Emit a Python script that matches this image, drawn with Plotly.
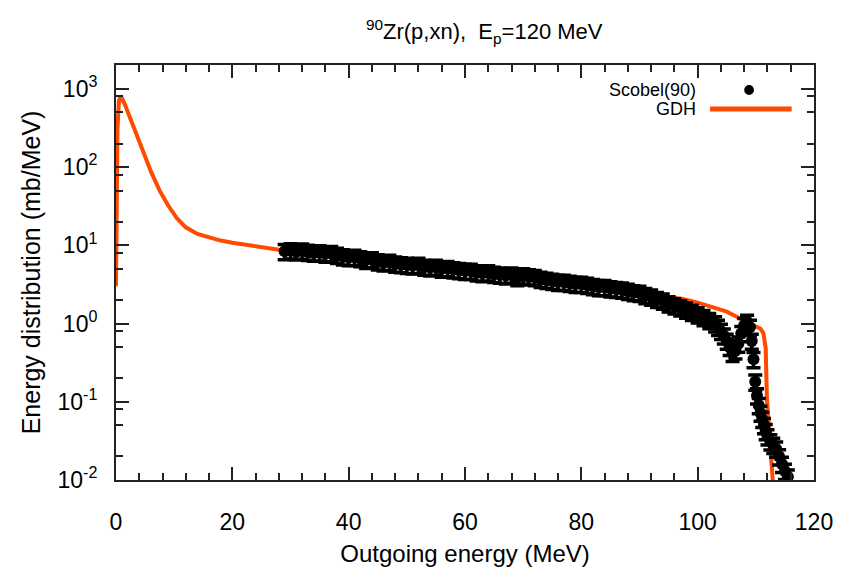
import plotly.graph_objects as go

# GDH calculation
gdh_e = [0.0, 0.1, 0.25, 0.5, 0.8, 1.5, 3.0, 4.5, 6.0, 7.5, 9.0, 10.5, 12.0, 14.0, 16.0,
         18.0, 20.0, 22.0, 25.0, 28.0, 30.0, 35.0, 40.0, 45.0, 50.0, 55.0, 60.0, 65.0,
         70.0, 75.0, 80.0, 85.0, 90.0, 95.0, 97.3, 100.0, 102.8, 105.0, 106.8, 108.0,
         109.5, 110.8, 111.3, 111.7, 111.9, 112.2, 112.5, 112.8, 113.0]
gdh_v = [3.0, 30, 300, 700, 820, 640, 330, 160, 88, 50, 32, 22, 17, 14, 12.5,
         11.5, 10.8, 10.2, 9.5, 8.8, 8.5, 7.7, 6.9, 6.1, 5.5, 5.0, 4.5, 4.1,
         3.7, 3.3, 3.0, 2.7, 2.4, 2.2, 2.07, 1.85, 1.62, 1.42, 1.21, 1.1,
         0.98, 0.86, 0.75, 0.48, 0.11, 0.05, 0.026, 0.0107, 0.008]

# Scobel(90) data
exp_e = [29, 30, 31, 32, 33, 34, 35, 36, 37, 38, 39, 40, 41, 42, 43, 44, 45, 46, 47, 48,
         49, 50, 51, 52, 53, 54, 55, 56, 57, 58, 59, 60, 61, 62, 63, 64, 65, 66, 67, 68,
         69, 70, 71, 72, 73, 74, 75, 76, 77, 78, 79, 80, 81, 82, 83, 84, 85, 86, 87, 88,
         89, 90, 91, 92, 93, 94, 95, 96, 97, 98, 99, 100, 101, 102, 103, 103.5, 104,
         104.5, 105, 105.5, 106, 106.5, 107, 107.5, 108, 108.5, 109, 109.3, 109.6, 109.9,
         110.2, 110.5, 110.8, 111.1, 111.4, 111.7, 112.0, 112.5, 113.0, 113.5, 114.0,
         114.5, 115.0, 115.5]
exp_v = [8.4, 8.6, 8.3, 8.5, 8.2, 8.0, 8.1, 7.8, 7.9, 7.5, 7.2, 7.0, 7.1, 6.8, 6.5, 6.6,
         6.2, 6.0, 6.1, 5.8, 5.7, 5.6, 5.5, 5.6, 5.3, 5.2, 5.3, 5.0, 5.1, 4.9, 4.8, 4.7,
         4.7, 4.5, 4.4, 4.5, 4.3, 4.2, 4.1, 4.2, 3.9, 4.1, 4.0, 3.9, 3.7, 3.6, 3.5, 3.4,
         3.4, 3.3, 3.2, 3.2, 3.1, 3.0, 2.9, 2.9, 2.8, 2.75, 2.7, 2.6, 2.5, 2.45, 2.3, 2.2,
         2.05, 1.95, 1.8, 1.7, 1.6, 1.5, 1.4, 1.3, 1.2, 1.1, 1.0, 0.9, 0.8, 0.7, 0.6,
         0.5, 0.42, 0.45, 0.55, 0.75, 0.95, 1.05, 0.9, 0.6, 0.35, 0.18, 0.12, 0.09, 0.072,
         0.06, 0.05, 0.042, 0.036, 0.031, 0.028, 0.025, 0.02, 0.016, 0.013, 0.011]

x_ticks = [0, 20, 40, 60, 80, 100, 120]
y_ticks = [0.01, 0.1, 1, 10, 100, 1000]
y_ticktext = ["10<sup>-2</sup>", "10<sup>-1</sup>", "10<sup>0</sup>",
              "10<sup>1</sup>", "10<sup>2</sup>", "10<sup>3</sup>"]
y_minor = [0.02, 0.05, 0.08, 0.2, 0.5, 0.8, 2, 5, 8, 20, 50, 80, 200, 500, 800]

FONT = "Liberation Sans, Arial, sans-serif"
ORANGE = "#FF4A00"

fig = go.Figure()
fig.add_trace(go.Scatter(x=gdh_e, y=gdh_v, mode="lines",
                         line=dict(color=ORANGE, width=4), showlegend=False))
fig.add_trace(go.Scatter(x=exp_e, y=exp_v, mode="markers",
                         marker=dict(color="black", size=12),
                         error_y=dict(type="percent", value=22, color="black",
                                      thickness=3.5, width=7),
                         showlegend=False))

axis_common = dict(showgrid=False, zeroline=False, showline=True, linecolor="#222",
                   linewidth=2, mirror="allticks", ticks="inside", ticklen=13,
                   tickwidth=1.5, tickcolor="#222",
                   tickfont=dict(family=FONT, size=23, color="black"))

fig.update_xaxes(range=[0, 120], tickvals=x_ticks,
                 minor=dict(dtick=4, tick0=0, ticks="inside", ticklen=7,
                            tickwidth=1.5, tickcolor="#222"),
                 ticklabelstandoff=20,
                 title=dict(text="Outgoing energy (MeV)", standoff=12,
                            font=dict(family=FONT, size=24, color="black")),
                 **axis_common)
fig.update_yaxes(type="log", range=[-2, 3.305], tickvals=y_ticks, ticktext=y_ticktext,
                 minor=dict(tickvals=y_minor, ticks="inside", ticklen=7,
                            tickwidth=1.5, tickcolor="#222"),
                 ticklabelstandoff=12,
                 title=dict(text="Energy distribution (mb/MeV)", standoff=10,
                            font=dict(family=FONT, size=25, color="black")),
                 **axis_common)

# gnuplot-style key (text on left, sample on right) in paper coordinates
fig.add_annotation(xref="paper", yref="paper", x=0.834, y=0.94, xanchor="right",
                   yanchor="middle", text="Scobel(90)", showarrow=False,
                   font=dict(family=FONT, size=18, color="black"))
fig.add_annotation(xref="paper", yref="paper", x=0.834, y=0.894, xanchor="right",
                   yanchor="middle", text="GDH", showarrow=False,
                   font=dict(family=FONT, size=18, color="black"))
fig.add_shape(type="circle", xref="paper", yref="paper", x0=0.9, x1=0.914,
              y0=0.928, y1=0.952, fillcolor="black", line=dict(color="black", width=0))
fig.add_shape(type="line", xref="paper", yref="paper", x0=0.851, x1=0.968,
              y0=0.894, y1=0.894, line=dict(color=ORANGE, width=5))

fig.update_layout(
    width=845, height=575,
    margin=dict(l=116, r=28, t=65, b=93),
    paper_bgcolor="white", plot_bgcolor="white",
    title=dict(text="<sup>90</sup>Zr(p,xn),\u00a0\u00a0E<sub>p</sub>=120 MeV",
               x=0.573, xref="container", xanchor="center",
               y=0.945, yref="container", yanchor="middle",
               font=dict(family=FONT, size=22, color="black")),
)

fig.write_html("out.html")
